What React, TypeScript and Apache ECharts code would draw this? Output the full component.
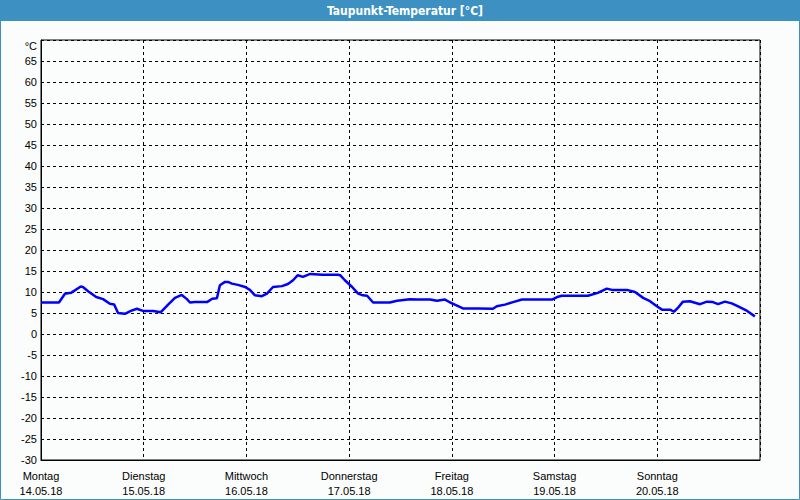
import React, { useEffect, useRef } from "react";
import * as echarts from "echarts";

const titleText = "Taupunkt-Temperatur [°C]";
const dayNames = ["Montag", "Dienstag", "Mittwoch", "Donnerstag", "Freitag", "Samstag", "Sonntag"];
const dayDates = ["14.05.18", "15.05.18", "16.05.18", "17.05.18", "18.05.18", "19.05.18", "20.05.18"];

// hours since Monday 00:00
const hours = [
  0, 4.2, 5.6, 7.0, 9.3, 9.8, 11.0, 12.9, 14.5, 16.1, 17.1, 18.0, 19.6, 21.0, 22.4, 23.8,
  26.2, 28.0, 29.7, 31.3, 32.9, 34.1, 34.8, 36.0, 38.8, 40.0, 41.1, 41.8, 43.0, 43.7, 44.6,
  46.0, 47.7, 48.8, 50.0, 51.6, 52.8, 54.2, 56.3, 57.7, 58.9, 60.0, 61.2, 62.9, 65.7, 69.4,
  69.9, 71.0, 72.7, 74.1, 75.2, 76.2, 77.6, 81.5, 83.2, 86.2, 87.9, 90.9, 92.5, 94.4, 95.6,
  96.7, 98.6, 102.3, 105.6, 106.5, 108.4, 110.3, 112.4, 119.4, 120.6, 121.7, 127.8, 130.1,
  132.2, 133.4, 136.9, 138.8, 140.7, 142.3, 143.9, 145.1, 147.0, 147.9, 148.8, 150.0, 151.6,
  154.0, 155.6, 157.0, 158.2, 159.8, 161.4, 162.9, 165.0, 166.8,
];
const dewPoint = [
  7.5, 7.5, 9.6, 9.8, 11.3, 11.2, 10.2, 8.8, 8.3, 7.2, 7.0, 5.0, 4.8, 5.5, 6.0, 5.5,
  5.5, 5.2, 7.0, 8.6, 9.3, 8.3, 7.5, 7.6, 7.6, 8.4, 8.5, 11.6, 12.4, 12.4, 12.0,
  11.7, 11.2, 10.5, 9.2, 9.0, 9.6, 11.2, 11.4, 11.9, 12.8, 14.0, 13.6, 14.3, 14.1, 14.1,
  14.0, 12.8, 11.2, 9.6, 9.2, 9.1, 7.5, 7.5, 7.9, 8.3, 8.2, 8.2, 7.9, 8.2, 7.5,
  7.0, 6.1, 6.1, 6.0, 6.6, 7.0, 7.6, 8.2, 8.2, 8.8, 9.1, 9.1, 9.8,
  10.8, 10.5, 10.5, 10.0, 8.6, 7.8, 6.6, 5.8, 5.8, 5.3, 6.2, 7.7, 7.8,
  7.1, 7.7, 7.6, 7.1, 7.7, 7.3, 6.6, 5.5, 4.2,
];

const yMin = -30;
const yMax = 70;
const yStep = 5;
const unitLabel = "°C";

export default function App() {
  const ref = useRef<HTMLDivElement>(null);
  useEffect(() => {
    if (!ref.current) return;
    const chart = echarts.init(ref.current, undefined, { renderer: "svg" });
    const font = "Liberation Sans";
    chart.setOption({
      animation: false,
      backgroundColor: "#fbfdfc",
      graphic: [
        {
          type: "rect",
          shape: { x: 0.5, y: 0.5, width: 799, height: 499 },
          style: { fill: "none", stroke: "#3c91c2", lineWidth: 1 },
          z: 10,
        },
        {
          type: "rect",
          shape: { x: 0, y: 0, width: 800, height: 21 },
          style: { fill: "#3c91c2" },
          z: 11,
        },
        {
          type: "text",
          x: 405,
          y: 10.5,
          style: {
            text: titleText,
            fill: "#ffffff",
            font: "bold 12px 'DejaVu Sans Condensed', 'DejaVu Sans'",
            align: "center",
            verticalAlign: "middle",
          },
          z: 12,
        },
      ],
      grid: {
        left: 41,
        top: 40,
        width: 719,
        height: 420,
        show: true,
        borderColor: "#000",
        borderWidth: 1,
        backgroundColor: "transparent",
      },
      xAxis: {
        type: "value",
        min: 0,
        max: 168,
        interval: 24,
        axisLine: { show: true, onZero: false, lineStyle: { color: "#000", width: 1 } },
        axisTick: { show: false },
        splitLine: { show: true, lineStyle: { color: "#000", type: [3, 3], width: 1 } },
        axisLabel: {
          color: "#000",
          fontFamily: font,
          fontSize: 11,
          lineHeight: 15,
          margin: 8,
          showMinLabel: true,
          showMaxLabel: true,
          formatter: (v: number) => {
            const i = Math.round(v / 24);
            if (i >= dayNames.length) return "";
            return dayNames[i] + "\n" + dayDates[i];
          },
        },
      },
      yAxis: {
        type: "value",
        min: yMin,
        max: yMax,
        interval: yStep,
        axisLine: { show: true, onZero: false, lineStyle: { color: "#000", width: 1 } },
        axisTick: { show: false },
        splitLine: { show: true, lineStyle: { color: "#000", type: [3, 3], width: 1 } },
        axisLabel: {
          color: "#000",
          fontFamily: font,
          fontSize: 11,
          margin: 4,
          showMinLabel: true,
          showMaxLabel: true,
          formatter: (v: number) => (v === yMax ? "{u|" + unitLabel + "}" : String(v)),
          rich: {
            u: { fontFamily: font, fontSize: 11, color: "#000", padding: [11, 0, 0, 0] },
          },
        },
      },
      series: [
        {
          type: "line",
          data: hours.map((h, i) => [h, dewPoint[i]]),
          showSymbol: false,
          lineStyle: { color: "#0000ff", width: 2.5 },
          itemStyle: { color: "#0000ff" },
        },
      ],
    });
    return () => chart.dispose();
  }, []);
  return (
    <div style={{ position: "fixed", left: 0, top: 0, width: 800, height: 500 }}>
      <div ref={ref} style={{ width: 800, height: 500 }} />
    </div>
  );
}
